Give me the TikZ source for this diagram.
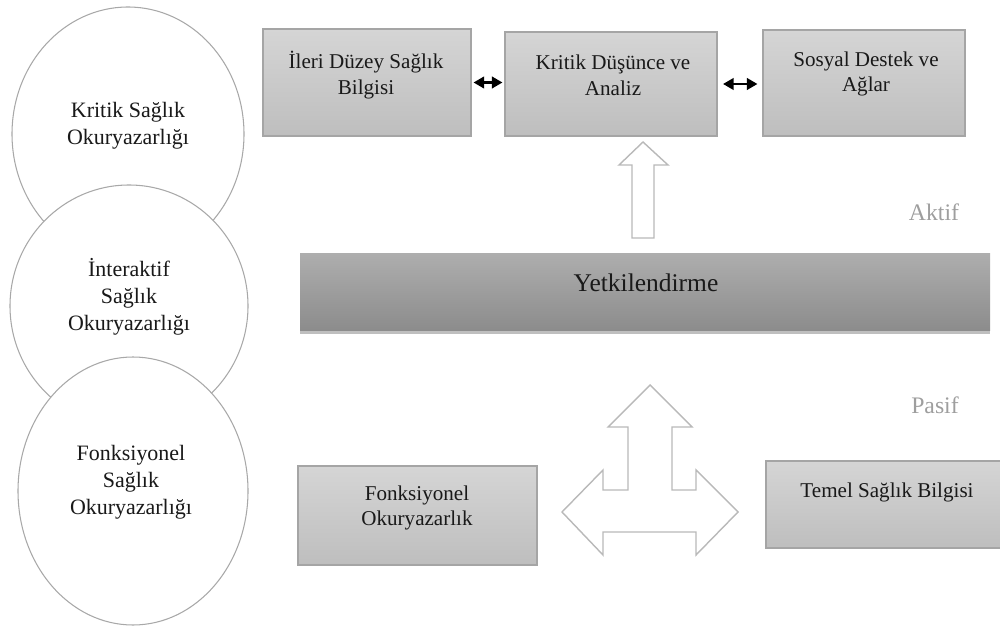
\documentclass[tikz,border=0pt]{standalone}
\usepackage{fontspec}
\setmainfont{Liberation Serif}
\usetikzlibrary{shapes.geometric, arrows.meta, shadows}
\definecolor{boxtop}{RGB}{213,213,213}
\definecolor{boxbot}{RGB}{190,190,190}
\definecolor{boxline}{RGB}{165,165,165}
\definecolor{bartop}{RGB}{174,174,174}
\definecolor{barbot}{RGB}{140,140,140}
\definecolor{ovalline}{RGB}{168,168,168}
\definecolor{arrline}{RGB}{185,185,185}
\definecolor{sidetext}{RGB}{158,158,158}
\begin{document}
\begin{tikzpicture}[x=0.02cm, y=-0.02cm,
  oval/.style={ellipse, draw=ovalline, line width=0.6pt, fill=white, inner sep=0pt},
  greybox/.style={rectangle, draw=boxline, line width=0.6pt, top color=boxtop, bottom color=boxbot, inner sep=0pt},
  barbox/.style={rectangle, draw=none, top color=bartop, bottom color=barbot, inner sep=0pt,
    drop shadow={shadow xshift=0pt, shadow yshift=-0.07cm, fill=black, opacity=0.25}},
  boxtext/.style={align=center, font=\fontsize{12}{14.7}\selectfont, text=black!90, inner sep=0pt},
  ovaltext/.style={align=center, font=\fontsize{12.5}{15.5}\selectfont, text=black!90, inner sep=0pt},
  bartext/.style={font=\fontsize{14.5}{17}\selectfont, text=black!90, inner sep=0pt},
  sidelabel/.style={font=\fontsize{13.5}{16}\selectfont, text=sidetext, inner sep=0pt},
  linkarrow/.style={{Triangle[length=6pt,width=6.5pt]}-{Triangle[length=6pt,width=6.5pt]}, line width=1.4pt},
  blockarrow/.style={draw=arrline, line width=0.8pt, fill=white, line join=miter}
]
\path[use as bounding box] (0,0) rectangle (1000,628);
\clip (0,0) rectangle (1000,628);

% ellipses
\node[oval, minimum width=232*0.02cm, minimum height=254*0.02cm] (e1) at (128,134) {};
\node[oval, minimum width=238*0.02cm, minimum height=242*0.02cm] (e2) at (129,306) {};
\node[oval, minimum width=230*0.02cm, minimum height=268*0.02cm] (e3) at (133,491) {};
\node[ovaltext] (e1t) at (128,126) {Kritik Sağlık\\Okuryazarlığı};
\node[ovaltext] (e2t) at (129,297) {İnteraktif\\Sağlık\\Okuryazarlığı};
\node[ovaltext] (e3t) at (131,482) {Fonksiyonel\\Sağlık\\Okuryazarlığı};

% top boxes
\node[greybox, minimum width=208*0.02cm, minimum height=107*0.02cm] (b1) at (367,82.5) {};
\node[greybox, minimum width=212*0.02cm, minimum height=104*0.02cm] (b2) at (611,84) {};
\node[greybox, minimum width=202*0.02cm, minimum height=106*0.02cm] (b3) at (864,83) {};
\node[boxtext] (b1t) at (366,75) {İleri Düzey Sağlık\\Bilgisi};
\node[boxtext] (b2t) at (613,75.5) {Kritik Düşünce ve\\Analiz};
\node[boxtext] (b3t) at (866,74) {Sosyal Destek ve\\Ağlar};

\draw[linkarrow, shorten <=0.04cm, shorten >=0.04cm] (b1.east) -- (b1.east -| b2.west);
\draw[linkarrow, shorten <=0.11cm, shorten >=0.1cm] (b2.east) -- (b2.east -| b3.west);

% up arrow
\draw[blockarrow] (643,142) -- (668,165) -- (654,165) -- (654,238) -- (632,238) -- (632,165) -- (619,165) -- cycle;

% Yetkilendirme bar
\node[barbox, minimum width=690*0.02cm, minimum height=77*0.02cm] (bar) at (645,291.5) {};
\node[bartext] (bart) at (646,283) {Yetkilendirme};

% side labels
\node[sidelabel] (aktif) at (934,212) {Aktif};
\node[sidelabel] (pasif) at (935,405) {Pasif};

% three-way arrow
\draw[blockarrow] (650,385) -- (692,427) -- (672,427) -- (672,490) -- (696,490) -- (696,470)
  -- (738,512) -- (696,555) -- (696,532) -- (603,532) -- (603,555) -- (562,512)
  -- (603,470) -- (603,490) -- (628,490) -- (628,427) -- (608,427) -- cycle;

% bottom boxes
\node[greybox, minimum width=239*0.02cm, minimum height=99*0.02cm] (fb) at (417.5,515.5) {};
\node[boxtext] (fbt) at (417,508) {Fonksiyonel\\Okuryazarlık};
\node[greybox, minimum width=242*0.02cm, minimum height=87*0.02cm] (tb) at (887,504.5) {};
\node[boxtext] (tbt) at (887,492) {Temel Sağlık Bilgisi};
\end{tikzpicture}
\end{document}
